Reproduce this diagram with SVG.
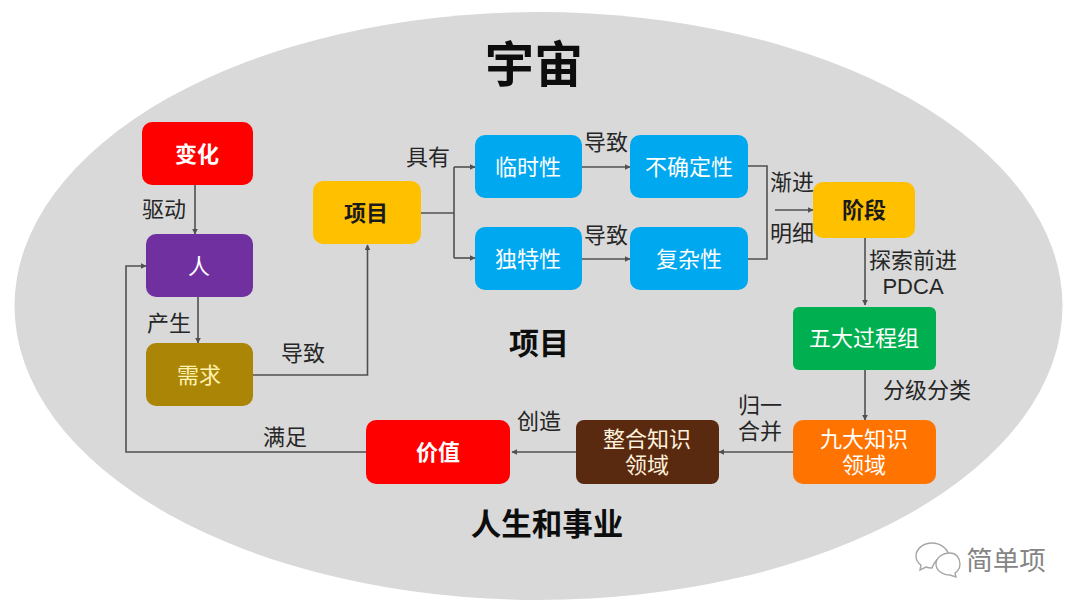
<svg xmlns="http://www.w3.org/2000/svg" width="1080" height="608" viewBox="0 0 1080 608">
<defs>
<marker id="a" viewBox="0 0 10 10" refX="9" refY="5" markerWidth="6" markerHeight="6" markerUnits="userSpaceOnUse" orient="auto"><path d="M0 0L10 5L0 10z" fill="#505050"/></marker>
</defs>
<style>
text{font-family:"Liberation Sans","Noto Sans CJK SC",sans-serif;text-anchor:middle}
.l{font-size:22px;fill:#262626}
.n{font-size:22px;fill:#fff}
.b{font-size:22px;font-weight:700;fill:#fff}
.k{font-size:22px;font-weight:700;fill:#1a1a1a}
.t{font-weight:700;fill:#0d0d0d}
.c path{fill:none;stroke:#505050;stroke-width:1.6}
.c path.m{marker-end:url(#a)}
</style>
<rect width="1080" height="608" fill="#fff"/>
<ellipse cx="538.500" cy="306" rx="524" ry="294" fill="#d9d9d9"/>
<text x="534" y="82" font-size="49" class="t">宇宙</text>
<text x="539" y="354" font-size="30" class="t">项目</text>
<text x="547" y="535" font-size="30.500" class="t">人生和事业</text>
<g class="c" id="connectors">
<path class="m" d="M195 184V234"/>
<path class="m" d="M198 297V343"/>
<path class="m" d="M253 375H367.500V245"/>
<path d="M421 213H454"/>
<path d="M454 167V258"/>
<path class="m" d="M454 167H475"/>
<path class="m" d="M454 258H475"/>
<path class="m" d="M582 167H630"/>
<path class="m" d="M582 259H630"/>
<path d="M748 166H767V259H748"/>
<path class="m" d="M775 210H813"/>
<path class="m" d="M865 238V305"/>
<path class="m" d="M865 370V420"/>
<path class="m" d="M793 452H719"/>
<path class="m" d="M576 452H512"/>
<path class="m" d="M366 452H126V266H146"/>
</g>
<g id="n-bianhua"><rect x="142" y="122" width="111" height="63" rx="10" fill="#ff0000"/><text x="197" y="162" class="b">变化</text></g>
<g id="n-ren"><rect x="146" y="234" width="107" height="63" rx="10" fill="#7030a0"/><text x="199" y="274" class="n">人</text></g>
<g id="n-xuqiu"><rect x="146" y="343" width="107" height="63" rx="10" fill="#ab8506"/><text x="199" y="383" class="n" style="fill:#fff2b0">需求</text></g>
<g id="n-xiangmu"><rect x="313" y="181" width="108" height="63" rx="10" fill="#ffc000"/><text x="366" y="221" class="k">项目</text></g>
<g id="n-linshi"><rect x="475" y="135" width="107" height="63" rx="10" fill="#00a8f0"/><text x="528" y="175" class="n">临时性</text></g>
<g id="n-buqueding"><rect x="630" y="135" width="118" height="63" rx="10" fill="#00a8f0"/><text x="689" y="175" class="n">不确定性</text></g>
<g id="n-dute"><rect x="475" y="227" width="107" height="63" rx="10" fill="#00a8f0"/><text x="528" y="267" class="n">独特性</text></g>
<g id="n-fuza"><rect x="630" y="227" width="118" height="63" rx="10" fill="#00a8f0"/><text x="689" y="267" class="n">复杂性</text></g>
<g id="n-jieduan"><rect x="813" y="182" width="102" height="56" rx="10" fill="#ffc000"/><text x="864" y="218" class="k">阶段</text></g>
<g id="n-wuda"><rect x="793" y="307" width="143" height="63" rx="6" fill="#00b050"/><text x="864" y="346" class="n">五大过程组</text></g>
<g id="n-jiuda"><rect x="793" y="420" width="143" height="64" rx="10" fill="#ff7300"/><text x="864" y="447" class="n">九大知识</text><text x="864" y="473" class="n">领域</text></g>
<g id="n-zhenghe"><rect x="576" y="420" width="143" height="64" rx="8" fill="#5a2a10"/><text x="647" y="447" class="n" style="fill:#fff2dc">整合知识</text><text x="647" y="473" class="n" style="fill:#fff2dc">领域</text></g>
<g id="n-jiazhi"><rect x="366" y="420" width="144" height="64" rx="10" fill="#ff0000"/><text x="438" y="460" class="b">价值</text></g>
<text x="164" y="217" class="l">驱动</text>
<text x="169" y="331" class="l">产生</text>
<text x="303" y="361" class="l">导致</text>
<text x="428" y="165" class="l">具有</text>
<text x="606" y="150" class="l">导致</text>
<text x="606" y="243" class="l">导致</text>
<text x="792" y="190" class="l">渐进</text>
<text x="792" y="241" class="l">明细</text>
<text x="913" y="268" class="l">探索前进</text>
<text x="913" y="294" class="l">PDCA</text>
<text x="927" y="398" class="l">分级分类</text>
<text x="760" y="413" class="l">归一</text>
<text x="760" y="439" class="l">合并</text>
<text x="539" y="429" class="l">创造</text>
<text x="285" y="445" class="l">满足</text>
<g id="watermark">
<g fill="#fff" stroke="#a6a6a6" stroke-width="1.400">
<path d="M932 543c-9 0-16 6-16 13 0 4 2 7 5 9l-1 5 6-3c2 1 4 1 6 1 3-8 9-13 17-13-2-7-9-12-17-12z"/>
<path d="M950 553c-8 0-14 5-14 11s6 11 14 11l6 2-1-4c3-2 5-5 5-9 0-6-4-11-10-11z"/>
</g>
<text x="1006" y="570" font-size="26.500" style="fill:#858585">简单项</text>
</g>
</svg>
